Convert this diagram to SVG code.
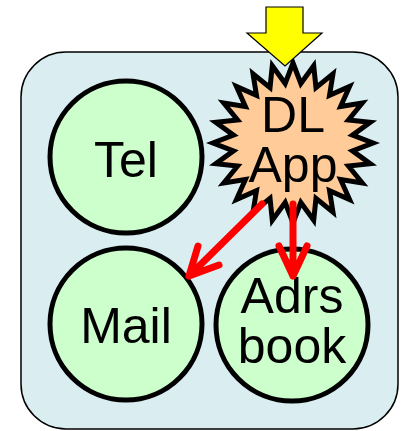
<svg xmlns="http://www.w3.org/2000/svg" width="404" height="431" viewBox="0 0 404 431">
  <style>
    .frame { fill: #DAEEF1; stroke: #000; stroke-width: 1.5; }
    .app { fill: #CCFFCC; stroke: #000; stroke-width: 5; }
    .star { fill: #FFCC99; stroke: #000; stroke-width: 5; stroke-linejoin: miter; stroke-miterlimit: 10; }
    .lbl { font-family: "Liberation Sans", Arial, sans-serif; font-size: 50px; fill: #000; text-anchor: middle; }
    .flow { fill: none; stroke: #FF0000; stroke-width: 7; stroke-linecap: round; stroke-linejoin: round; }
    .push { fill: #FFFF00; stroke: #000; stroke-width: 1.2; stroke-linejoin: miter; }
  </style>

  <!-- device frame -->
  <rect id="device" class="frame" x="21" y="52" width="377" height="377" rx="45" ry="45"/>

  <g id="tel">
    <circle class="app" cx="126" cy="157" r="76"/>
    <text class="lbl" x="126" y="177">Tel</text>
  </g>

  <g id="mail">
    <circle class="app" cx="126" cy="324" r="76"/>
    <text class="lbl" x="126" y="343">Mail</text>
  </g>

  <g id="adrsbook">
    <circle class="app" cx="292" cy="325" r="76"/>
    <text class="lbl" x="292" y="313">Adrs</text>
    <text class="lbl" x="292" y="363">book</text>
  </g>

  <g id="dlapp">
    <polygon class="star" points="293,63 300.83,83.51 313.71,65.73 315.96,87.57 333,73.72 329.53,95.4 349.57,86.43 340.6,106.47 362.28,103 348.43,120.04 370.27,122.29 352.49,135.17 373,143 352.49,150.83 370.27,163.71 348.43,165.96 362.28,183 340.6,179.53 349.57,199.57 329.53,190.6 333,212.28 315.96,198.43 313.71,220.27 300.83,202.49 293,223 285.17,202.49 272.29,220.27 270.04,198.43 253,212.28 256.47,190.6 236.43,199.57 245.4,179.53 223.72,183 237.57,165.96 215.73,163.71 233.51,150.83 213,143 233.51,135.17 215.73,122.29 237.57,120.04 223.72,103 245.4,106.47 236.43,86.43 256.47,95.4 253,73.72 270.04,87.57 272.29,65.73 285.17,83.51"/>
    <text class="lbl" x="293" y="132">DL</text>
    <text class="lbl" x="293" y="182">App</text>
  </g>

  <g id="connectors">
    <!-- incoming download -->
    <polygon class="push" points="266,7 303,7 303,33 322,33 285,66 247,33 266,33"/>
    <!-- DL App installs into Mail and Adrs book -->
    <path class="flow" d="M262,204 L189,276 M198,246 L189,276 L219,265"/>
    <path class="flow" d="M293,204 L293,276 M279,246 L293,276 L307,246"/>
  </g>
</svg>
